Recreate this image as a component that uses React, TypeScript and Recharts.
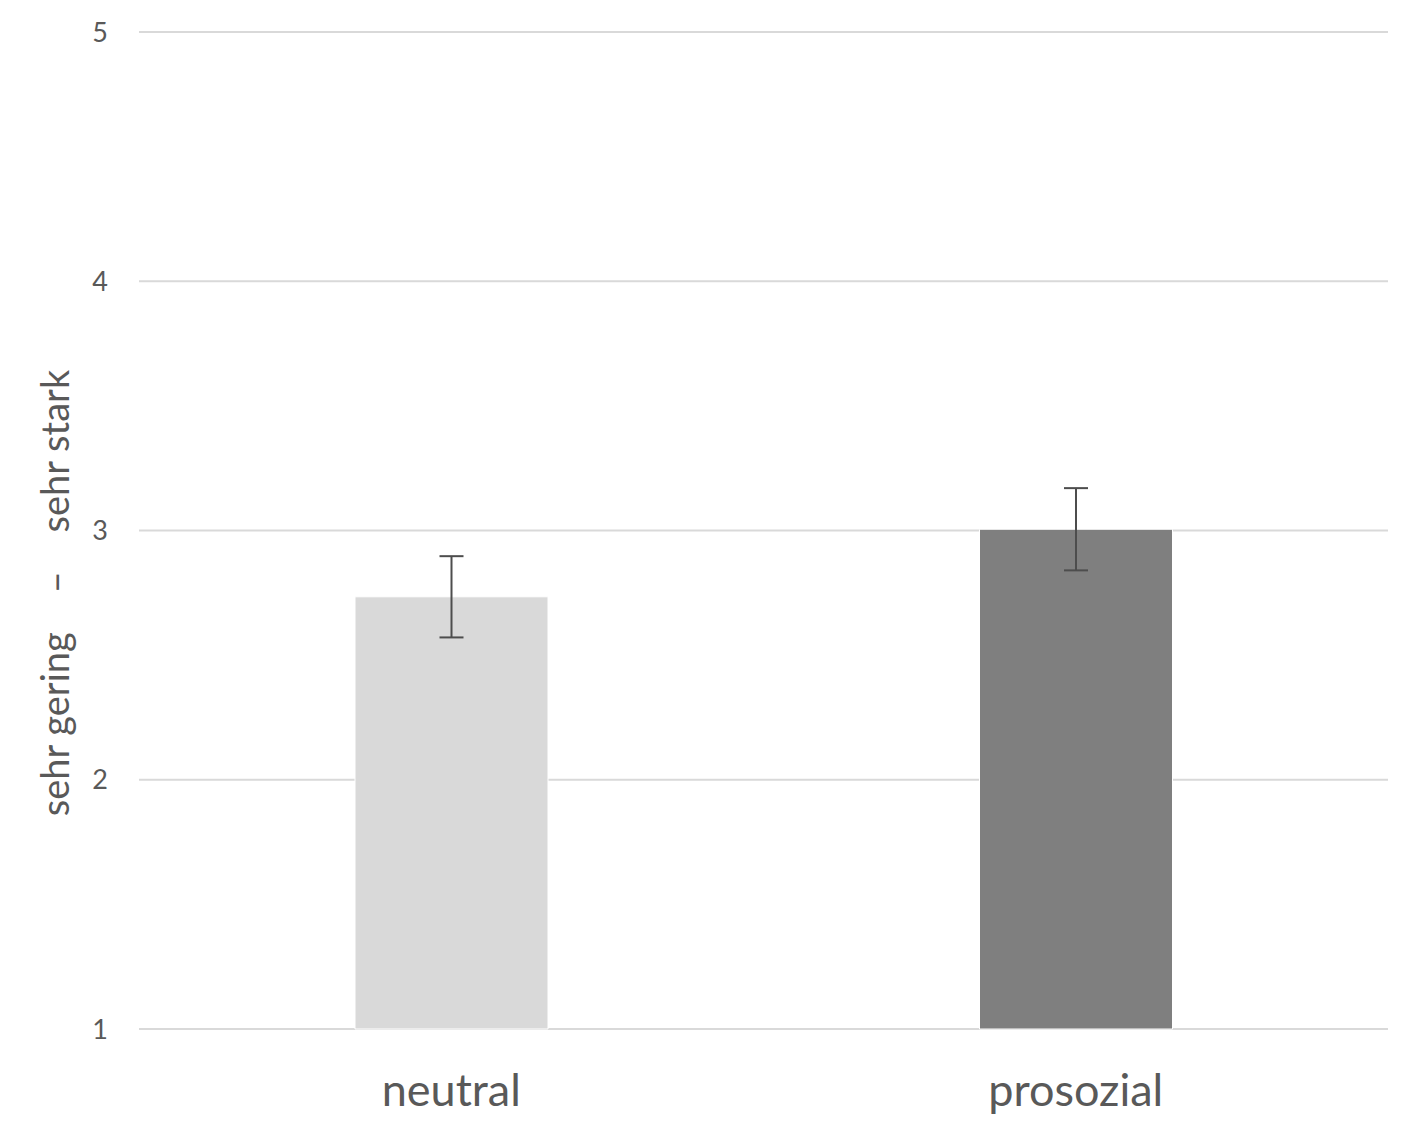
import React from "react";
import { BarChart, Bar, XAxis, YAxis, CartesianGrid, ErrorBar, Cell } from "recharts";

const categories = ["neutral", "prosozial"];
const means = [2.734, 3.005];
const errors = [0.163, 0.165];
const barColors = ["#d9d9d9", "#7f7f7f"];
const yTicks = [1, 2, 3, 4, 5];
const yLabel = "sehr gering\u00A0\u00A0\u00A0\u00A0–\u00A0\u00A0\u00A0\u00A0sehr stark";

const data = categories.map((c, i) => ({ name: c, value: means[i], err: errors[i] }));

const FONT = "Lato, 'Open Sans', sans-serif";

const YLabel = (props: any) => {
  const vb = props.viewBox || { x: 0, y: 0, width: 0, height: 0 };
  const cx = vb.x + 46;
  const cy = 585;
  return (
    <text
      x={cx}
      y={cy}
      transform={`rotate(-90, ${cx}, ${cy})`}
      textAnchor="middle"
      dominantBaseline="central"
      fill="#595959"
      fontSize={38}
      fontFamily={FONT}
    >
      {yLabel}
    </text>
  );
};

export default function App() {
  return (
    <div style={{ background: "#fff" }}>
      <BarChart
        width={1400}
        height={1120}
        data={data}
        margin={{ top: 24, right: 20, bottom: 0, left: 0 }}
      >
        <CartesianGrid vertical={false} stroke="#d9d9d9" strokeWidth={2} />
        <XAxis
          dataKey="name"
          axisLine={false}
          tickLine={false}
          tickSize={0}
          tickMargin={45}
          height={99}
          tick={{ fill: "#595959", fontSize: 45, fontFamily: FONT }}
        />
        <YAxis
          domain={[1, 5]}
          ticks={yTicks}
          width={131}
          axisLine={false}
          tickLine={false}
          tickSize={0}
          tickMargin={31}
          tick={{ fill: "#595959", fontSize: 27, fontFamily: FONT }}
          label={<YLabel />}
        />
        <Bar dataKey="value" barSize={193} isAnimationActive={false} stroke="#ffffff" strokeWidth={1}>
          {data.map((d, i) => (
            <Cell key={d.name} fill={barColors[i]} />
          ))}
          <ErrorBar dataKey="err" width={12} stroke="#4d4d4d" strokeWidth={2} direction="y" />
        </Bar>
      </BarChart>
    </div>
  );
}
